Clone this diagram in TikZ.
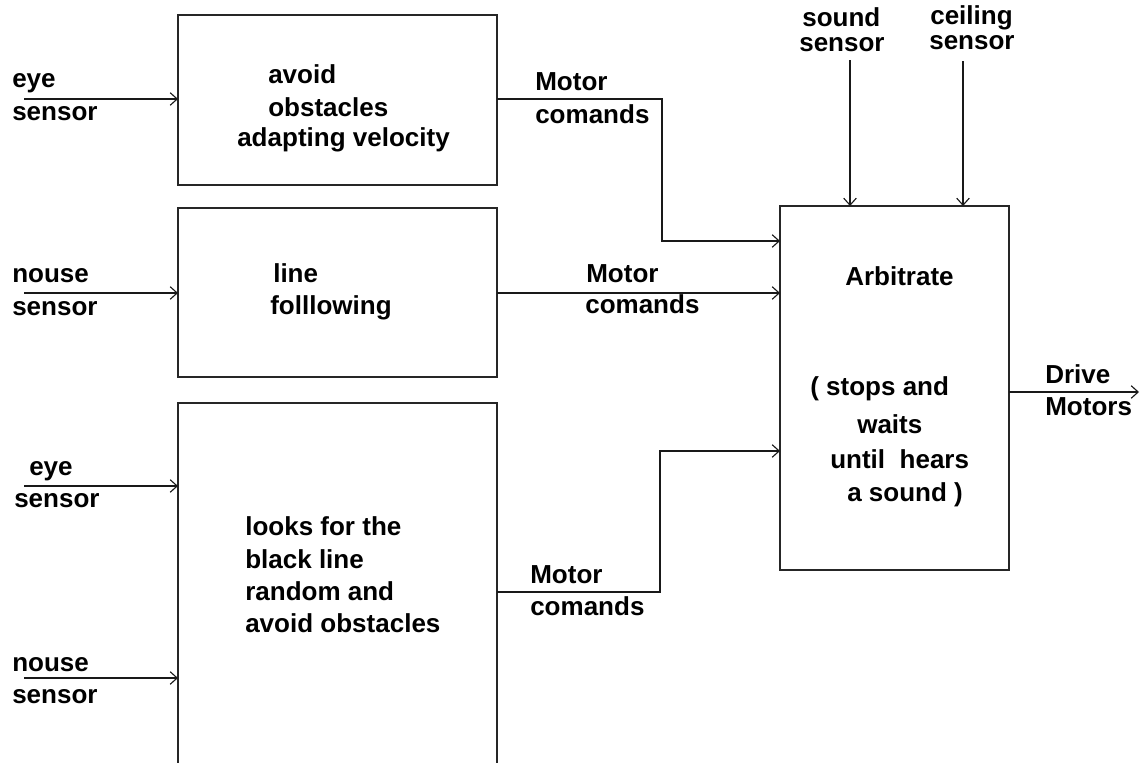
\documentclass[tikz,border=0pt]{standalone}
\usepackage{fontspec}
\setmainfont{Liberation Sans}
\usetikzlibrary{arrows.meta}
\tikzset{
  box/.style={draw=black!85, line width=1.3pt, inner sep=0pt, outer sep=0pt},
  lbl/.style={anchor=base west, inner sep=0pt, font=\fontsize{18.5}{22}\selectfont\bfseries},
  conn/.style={draw=black!90, line width=1.3pt, -{Straight Barb[length=5pt,width=9pt,line width=0.8pt]}},
  plain/.style={draw=black!90, line width=1.3pt}
}
\begin{document}
\begin{tikzpicture}[x=0.025cm, y=-0.025cm]
\clip (0,0) rectangle (1140,763);
\fill[white] (0,0) rectangle (1140,763);
% boxes
\node[box, minimum width=319*0.025cm, minimum height=170*0.025cm, anchor=north west] (box1) at (178,15) {};
\node[box, minimum width=319*0.025cm, minimum height=169*0.025cm, anchor=north west] (box2) at (178,208) {};
\node[box, minimum width=319*0.025cm, minimum height=400*0.025cm, anchor=north west] (box3) at (178,403) {};
\node[box, minimum width=229*0.025cm, minimum height=364*0.025cm, anchor=north west] (arb) at (780,206) {};
% box texts
\node[lbl] (b1a) at (268,83) {avoid};
\node[lbl] (b1b) at (268,116) {obstacles};
\node[lbl] (b1c) at (237,146) {adapting velocity};
\node[lbl] (b2a) at (273,282) {line};
\node[lbl] (b2b) at (270,314) {folllowing};
\node[lbl] (b3a) at (245,535) {looks for the};
\node[lbl] (b3b) at (245,568) {black line};
\node[lbl] (b3c) at (245,600) {random and};
\node[lbl] (b3d) at (245,632) {avoid obstacles};
\node[lbl] (ara) at (845,285) {Arbitrate};
\node[lbl] (arb1) at (810,395) {( stops and};
\node[lbl] (arb2) at (857,433) {waits};
\node[lbl] (arb3) at (830,468) {until\ \ hears};
\node[lbl] (arb4) at (847,501) {a sound )};
% sensor labels
\node[lbl] (s1a) at (12,87) {eye};
\node[lbl] (s1b) at (12,120) {sensor};
\node[lbl] (s2a) at (12,282) {nouse};
\node[lbl] (s2b) at (12,315) {sensor};
\node[lbl] (s3a) at (29,475) {eye};
\node[lbl] (s3b) at (14,507) {sensor};
\node[lbl] (s4a) at (12,671) {nouse};
\node[lbl] (s4b) at (12,703) {sensor};
\node[lbl] (so1) at (802,27) {sound};
\node[lbl] (so2) at (799,52) {sensor};
\node[lbl] (ce1) at (930,25) {ceiling};
\node[lbl] (ce2) at (929,50) {sensor};
% motor labels
\node[lbl] (m1a) at (535,90) {Motor};
\node[lbl] (m1b) at (535,123) {comands};
\node[lbl] (m2a) at (586,282) {Motor};
\node[lbl] (m2b) at (585,313) {comands};
\node[lbl] (m3a) at (530,583) {Motor};
\node[lbl] (m3b) at (530,615) {comands};
\node[lbl] (dr1) at (1045,383) {Drive};
\node[lbl] (dr2) at (1045,415) {Motors};
% coordinates
\coordinate (i1) at (24,99);
\coordinate (i2) at (24,293);
\coordinate (i3) at (24,486);
\coordinate (i4) at (24,678);
\coordinate (o1) at (497,99);
\coordinate (k1) at (662,99);
\coordinate (a1) at (780,241);
\coordinate (o2) at (497,293);
\coordinate (o3) at (497,592);
\coordinate (k3) at (660,592);
\coordinate (a3) at (780,451);
\coordinate (sn) at (850,60);
\coordinate (cn) at (963,61);
\coordinate (dv) at (1009,392);
\coordinate (dend) at (1139,392);
% connectors
\draw[conn] (i1) -- (i1 -| box1.west);
\draw[conn] (i2) -- (i2 -| box2.west);
\draw[conn] (i3) -- (i3 -| box3.west);
\draw[conn] (i4) -- (i4 -| box3.west);
\draw[conn] (o1) -- (k1) |- (a1);
\draw[conn] (o2) -- (o2 -| arb.west);
\draw[conn] (o3) -- (k3) |- (a3);
\draw[conn] (sn) -- (sn |- arb.north);
\draw[conn] (cn) -- (cn |- arb.north);
\draw[conn] (dv) -- (dend);
\end{tikzpicture}
\end{document}
